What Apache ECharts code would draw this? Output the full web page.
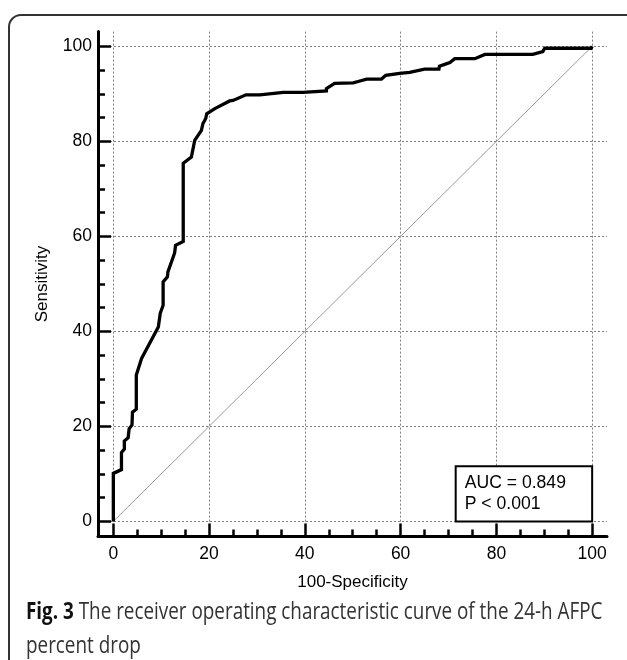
<!DOCTYPE html>
<html>
<head>
<meta charset="utf-8">
<script src="https://cdn.jsdelivr.net/npm/echarts@6/dist/echarts.min.js"></script>
<style>
    html, body { margin: 0; padding: 0; background: #fff; }
    #container { width: 627px; height: 660px; }
</style>
</head>
<body>
<div id="container"></div>
<script>
// ROC curve points (100-Specificity, Sensitivity)
let fprX = [0, 0, 1.7, 1.7, 2.3, 2.3, 3.1, 3.3, 3.9, 4.0, 4.8, 4.8, 5.9, 9.4, 9.8, 10.4, 10.4, 11.3, 11.4, 12.8, 13.0, 14.6, 14.6,
    16.3, 17.0, 18.4, 18.7, 19.3, 19.5, 21.2, 24.3, 25.0, 27.7, 30.6, 35.5, 39.6, 40.0, 44.5, 44.5, 46.2, 50.1, 51.5, 52.9,
    56.0, 56.9, 59.8, 61.9, 65.0, 68.0, 68.1, 69.2, 70.3, 71.3, 75.5, 77.6, 87.6, 89.7, 90.1, 99.8, 100]
let sensY = [0, 10.1, 10.9, 14.5, 15.2, 16.9, 17.6, 19.5, 20.3, 23.0, 23.6, 30.8, 34.3, 40.9, 43.8, 45.5, 50.4, 51.5, 52.5, 56.5, 58.1, 58.9, 75.4,
    76.7, 80.2, 82.3, 83.7, 84.8, 85.8, 86.9, 88.5, 88.6, 89.8, 89.8, 90.3, 90.3, 90.6, 90.6, 91.1, 92.2, 92.3, 92.7, 93.1,
    93.1, 93.9, 94.3, 94.5, 95.2, 95.2, 95.8, 96.2, 96.6, 97.4, 97.4, 98.3, 98.3, 98.9, 99.6, 99.6, 100]

// reference line
let diagX = [0, 100]
let diagY = [0, 100]

let majorTicks = [0, 20, 40, 60, 80, 100]
let minorTicks = [5, 10, 15, 25, 30, 35, 45, 50, 55, 65, 70, 75, 85, 90, 95]

let aucText = ['AUC = 0.849', 'P < 0.001']
let aucBox = [[71.5, 11.6], [100, 0]]

let chartFont = 'Liberation Sans, Arial, sans-serif'
let axisMin = -3.2
let axisMax = 103.1

function pairs(xs, ys) {
    let out = []
    for (let i = 0; i < xs.length; i++) {
        out.push([xs[i], ys[i]])
    }
    return out
}

function mainAxis(name, gap) {
    return {
        type: 'value',
        min: axisMin,
        max: axisMax,
        name: name,
        nameLocation: 'middle',
        nameGap: gap,
        nameTextStyle: {fontFamily: chartFont, fontSize: 17, color: '#000'},
        axisLine: {show: true, onZero: false, lineStyle: {color: '#000', width: 3}},
        axisTick: {show: true, inside: true, length: 13, customValues: majorTicks, lineStyle: {color: '#000', width: 2.5}},
        axisLabel: {customValues: majorTicks, fontFamily: chartFont, fontSize: 17.5, color: '#000'},
        splitLine: {show: true, lineStyle: {color: '#808080', width: 1, type: [2, 2]}}
    }
}

function minorAxis(pos) {
    return {
        type: 'value',
        position: pos,
        min: axisMin,
        max: axisMax,
        axisLine: {show: false, onZero: false},
        axisTick: {show: true, inside: true, length: 7, customValues: minorTicks, lineStyle: {color: '#000', width: 2.5}},
        axisLabel: {show: false},
        splitLine: {show: false}
    }
}

let xMain = mainAxis('100-Specificity', 37)
xMain.position = 'bottom'
xMain.axisLabel.margin = 9
let yMain = mainAxis('Sensitivity', 47)
yMain.position = 'left'
yMain.axisLabel.margin = 6

let option = {
    animation: false,
    backgroundColor: '#fff',
    grid: {left: 98, right: 20, top: 31.6, bottom: 123.4, outerBoundsMode: 'none'},
    xAxis: [xMain, minorAxis('bottom')],
    yAxis: [yMain, minorAxis('left')],
    series: [
        {
            name: 'diagonal',
            type: 'line',
            xAxisIndex: 0,
            yAxisIndex: 0,
            symbol: 'none',
            silent: true,
            lineStyle: {color: '#9a9a9a', width: 1},
            data: pairs(diagX, diagY),
            markArea: {
                silent: true,
                itemStyle: {color: '#fff', borderColor: '#000', borderWidth: 2, opacity: 1},
                label: {
                    show: true,
                    position: 'insideLeft',
                    distance: 10,
                    formatter: aucText.join('\n'),
                    fontFamily: chartFont,
                    fontSize: 17.6,
                    lineHeight: 21,
                    color: '#000'
                },
                data: [[{coord: aucBox[0]}, {coord: aucBox[1]}]]
            }
        },
        {
            name: 'ROC',
            type: 'line',
            xAxisIndex: 0,
            yAxisIndex: 0,
            symbol: 'none',
            silent: true,
            z: 5,
            lineStyle: {color: '#000', width: 3.3, join: 'miter'},
            data: pairs(fprX, sensY)
        }
    ],
    graphic: [
        {
            type: 'rect',
            shape: {x: 9, y: 15, width: 700, height: 700, r: 12},
            style: {fill: null, stroke: '#333', lineWidth: 2},
            silent: true
        },
        {
            type: 'text',
            x: 26,
            y: 595,
            scaleX: 0.82,
            style: {
                text: '{b|Fig. 3} The receiver operating characteristic curve of the 24-h AFPC\npercent drop',
                font: '23px "Open Sans", sans-serif',
                fill: '#333',
                lineHeight: 34,
                verticalAlign: 'top',
                rich: {
                    b: {fontFamily: 'Open Sans', fontWeight: 'bold', fontSize: 23, fill: '#111', lineHeight: 34}
                }
            }
        }
    ]
}

//初始化echarts实例
var myChart = echarts.init(document.getElementById('container'))
myChart.setOption(option)
</script>
</body>
</html>
